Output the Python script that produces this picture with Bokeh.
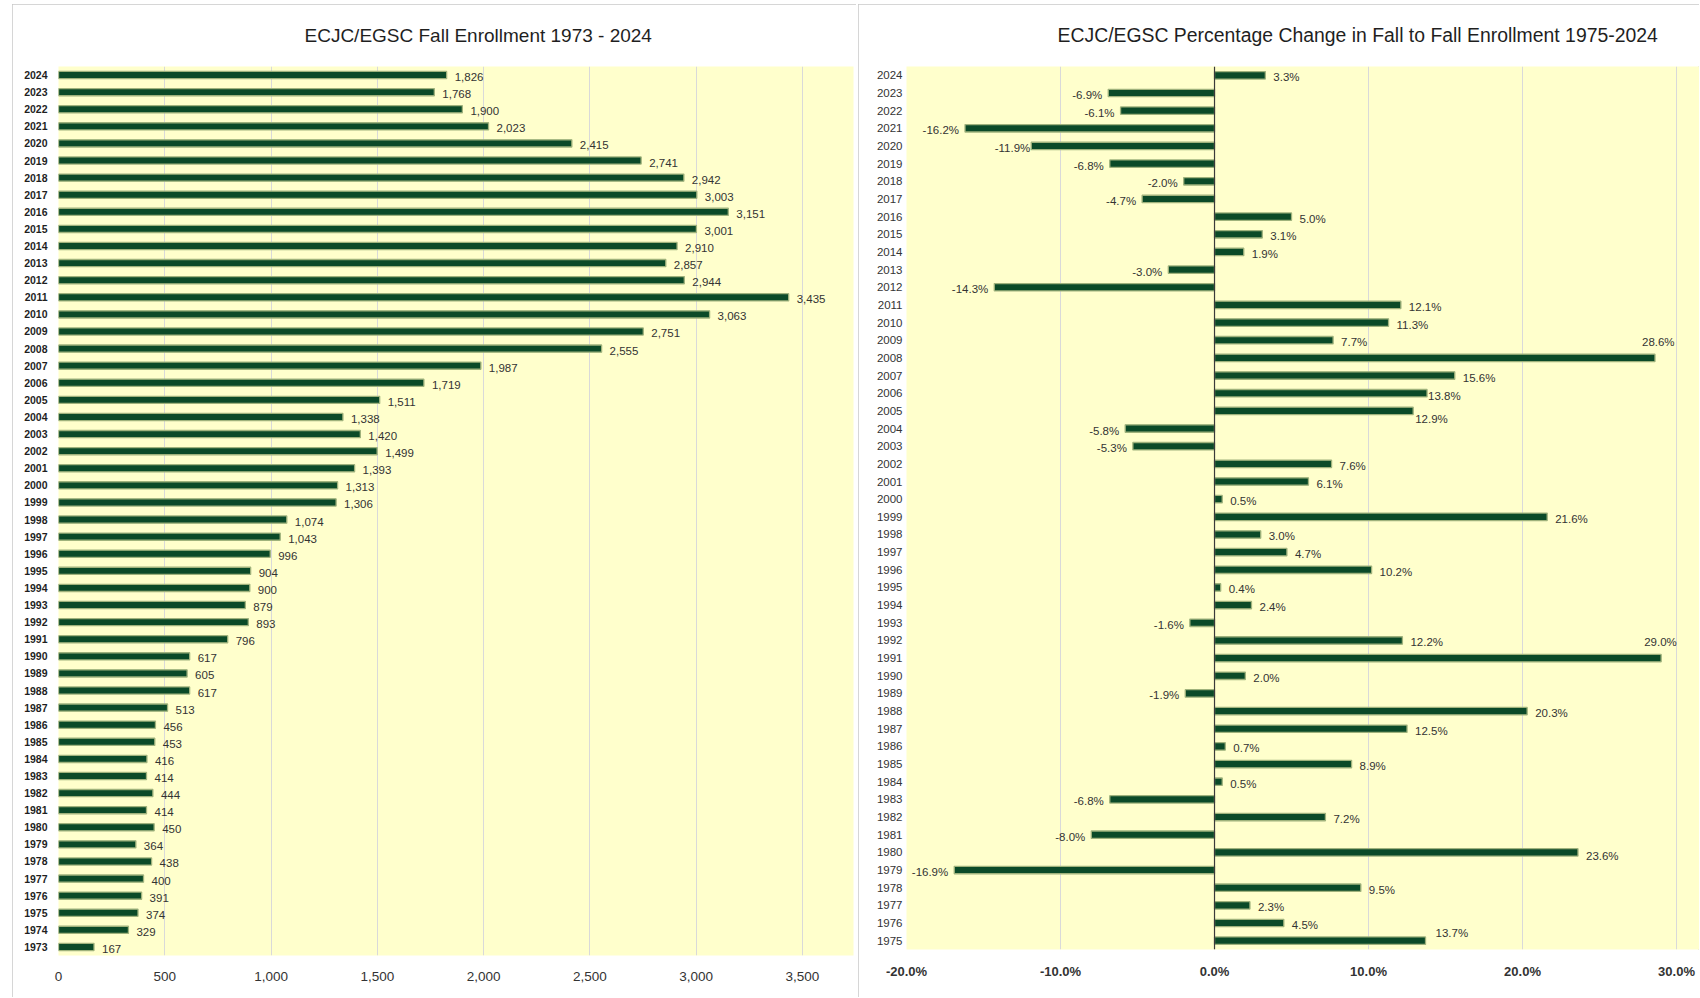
from bokeh.plotting import figure
from bokeh.layouts import row, column
from bokeh.models import (FactorRange, Range1d, FixedTicker, NumeralTickFormatter,
                          PrintfTickFormatter, ColumnDataSource, Span, Spacer, Title)
from bokeh.embed import file_html
from bokeh.resources import INLINE
from bokeh.core.properties import value

# ---------------- data ----------------
enr_years = ["2024", "2023", "2022", "2021", "2020", "2019", "2018", "2017", "2016", "2015",
             "2014", "2013", "2012", "2011", "2010", "2009", "2008", "2007", "2006", "2005",
             "2004", "2003", "2002", "2001", "2000", "1999", "1998", "1997", "1996", "1995",
             "1994", "1993", "1992", "1991", "1990", "1989", "1988", "1987", "1986", "1985",
             "1984", "1983", "1982", "1981", "1980", "1979", "1978", "1977", "1976", "1975",
             "1974", "1973"]
enrollment = [1826, 1768, 1900, 2023, 2415, 2741, 2942, 3003, 3151, 3001,
              2910, 2857, 2944, 3435, 3063, 2751, 2555, 1987, 1719, 1511,
              1338, 1420, 1499, 1393, 1313, 1306, 1074, 1043, 996, 904,
              900, 879, 893, 796, 617, 605, 617, 513, 456, 453,
              416, 414, 444, 414, 450, 364, 438, 400, 391, 374,
              329, 167]

chg_years = ["2024", "2023", "2022", "2021", "2020", "2019", "2018", "2017", "2016", "2015",
             "2014", "2013", "2012", "2011", "2010", "2009", "2008", "2007", "2006", "2005",
             "2004", "2003", "2002", "2001", "2000", "1999", "1998", "1997", "1996", "1995",
             "1994", "1993", "1992", "1991", "1990", "1989", "1988", "1987", "1986", "1985",
             "1984", "1983", "1982", "1981", "1980", "1979", "1978", "1977", "1976", "1975"]
pct_change = [3.3, -6.9, -6.1, -16.2, -11.9, -6.8, -2.0, -4.7, 5.0, 3.1,
              1.9, -3.0, -14.3, 12.1, 11.3, 7.7, 28.6, 15.6, 13.8, 12.9,
              -5.8, -5.3, 7.6, 6.1, 0.5, 21.6, 3.0, 4.7, 10.2, 0.4,
              2.4, -1.6, 12.2, 29.0, 2.0, -1.9, 20.3, 12.5, 0.7, 8.9,
              0.5, -6.8, 7.2, -8.0, 23.6, -16.9, 9.5, 2.3, 4.5, 13.7]

enr_ticks = [0, 500, 1000, 1500, 2000, 2500, 3000, 3500]
chg_ticks = [-20, -10, 0, 10, 20, 30]

title_left = "ECJC/EGSC Fall Enrollment 1973 - 2024"
title_right = "ECJC/EGSC Percentage Change in Fall to Fall Enrollment 1975-2024"

# label nudges (screen px) for a few percentage labels, as in the original
pct_label_nudge = {"2008": (-13, -16), "1991": (-17, -16), "2005": (2, 8),
                   "2006": (1, 3), "1975": (10, -8), "1980": (8, 4), "2020": (-1, 2)}

# ---------------- style ----------------
BAR = "#0B4A28"
BAR_EDGE = "#9FB27C"
BG = "#FFFFCC"
GRID = "#D9D9D9"
TXT = "#333333"
NUMFONT = "Liberation Sans"
PANEL = {"outline": "1px solid #C8C8C8", "outline-offset": "-1px"}


def style_axes(p):
    for ax in (p.xaxis[0], p.yaxis[0]):
        ax.axis_line_color = None
        ax.major_tick_line_color = None
        ax.minor_tick_line_color = None
        ax.major_tick_out = 0
        ax.major_tick_in = 0
        ax.major_label_text_font = NUMFONT
        ax.major_label_text_color = TXT
    p.xgrid.grid_line_color = GRID
    p.ygrid.grid_line_color = None
    p.background_fill_color = BG
    p.border_fill_color = "white"
    p.outline_line_color = None


def add_title(p, text, offset, size):
    p.add_layout(Title(text=text, align="left", offset=offset, standoff=38,
                       vertical_align="top",
                       text_font=NUMFONT, text_font_size=size, text_font_style="normal",
                       text_color="#1F1F1F"), "above")


# ---------------- left chart ----------------
src1 = ColumnDataSource(dict(
    year=enr_years, val=enrollment,
    lab=[f"{v:,}" for v in enrollment],
))

p1 = figure(width=844, height=993, title=None,
            y_range=FactorRange(factors=enr_years[::-1], range_padding=0),
            x_range=Range1d(0, 3740),
            output_backend="svg", toolbar_location=None,
            min_border_left=46, min_border_right=3, min_border_top=62, min_border_bottom=42,
            styles=PANEL)
style_axes(p1)
p1.hbar(y="year", right="val", left=0, height=0.42, source=src1,
        fill_color=BAR, line_color=BAR_EDGE, line_width=1.3)
p1.text(x="val", y="year", text="lab", source=src1, x_offset=8, y_offset=2,
        text_align="left", text_baseline="middle", text_font=value(NUMFONT),
        text_font_size="11.5px", text_color=TXT)
p1.xaxis.ticker = FixedTicker(ticks=enr_ticks)
p1.xaxis.formatter = NumeralTickFormatter(format="0,0")
p1.xaxis.major_label_text_font_size = "13.5px"
p1.xaxis.major_label_standoff = 16
p1.yaxis.major_label_text_font_size = "10.5px"
p1.yaxis.major_label_text_font_style = "bold"
p1.yaxis.major_label_text_color = "#1F1F1F"
p1.yaxis.major_label_standoff = 11
add_title(p1, title_left, 246, "19px")

# ---------------- right chart ----------------
pos = [v >= 0 for v in pct_change]
xo = [8 if p else -6 for p in pos]
yo = [2 for _ in pct_change]
for i, y in enumerate(chg_years):
    if y in pct_label_nudge:
        xo[i], yo[i] = pct_label_nudge[y]
src2 = ColumnDataSource(dict(
    year=chg_years, val=pct_change,
    lab=[f"{v:.1f}%" for v in pct_change],
    align=["left" if p else "right" for p in pos],
    xo=xo, yo=yo,
))

p2 = figure(width=841, height=993, title=None,
            y_range=FactorRange(factors=chg_years[::-1], range_padding=0),
            x_range=Range1d(-20, 31.49),
            output_backend="svg", toolbar_location=None,
            min_border_left=48, min_border_right=0, min_border_top=62, min_border_bottom=48,
            styles=PANEL)
style_axes(p2)
p2.hbar(y="year", right="val", left=0, height=0.42, source=src2,
        fill_color=BAR, line_color=BAR_EDGE, line_width=1.3)
p2.add_layout(Span(location=0, dimension="height", line_color="#3A3A3A", line_width=1.2))
p2.text(x="val", y="year", text="lab", source=src2, x_offset="xo", y_offset="yo",
        text_align="align", text_baseline="middle", text_font=value(NUMFONT),
        text_font_size="11.5px", text_color=TXT)
p2.xaxis.ticker = FixedTicker(ticks=chg_ticks)
p2.xaxis.formatter = PrintfTickFormatter(format="%.1f%%")
p2.xaxis.major_label_text_font_size = "13px"
p2.xaxis.major_label_text_font_style = "bold"
p2.xaxis.major_label_standoff = 14
p2.yaxis.major_label_text_font_size = "11.5px"
p2.yaxis.major_label_standoff = 4
add_title(p2, title_right, 151, "19.4px")

layout = row(Spacer(width=12),
             column(Spacer(height=4), p1),
             Spacer(width=2),
             column(Spacer(height=4), p2))
open("out.html", "w").write(file_html(layout, INLINE))
